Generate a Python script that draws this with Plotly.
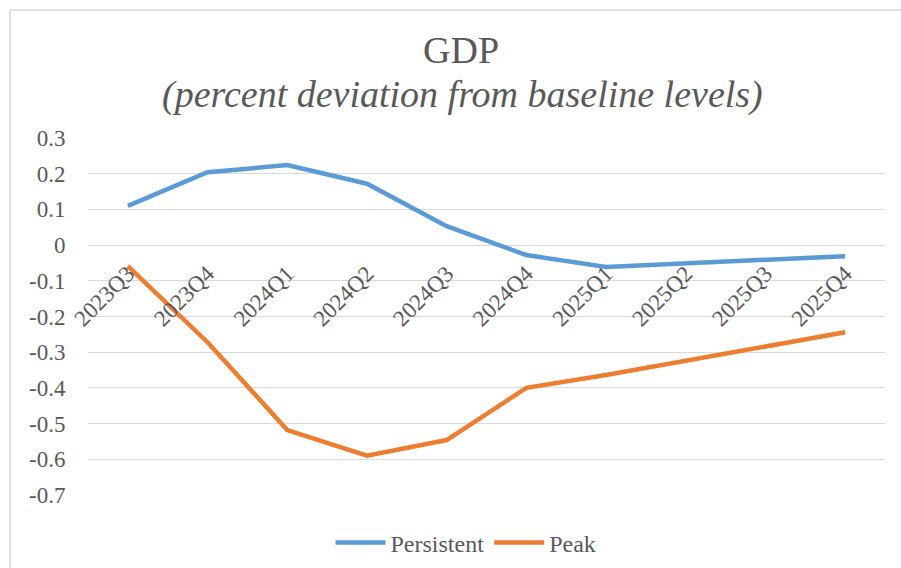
import plotly.graph_objects as go

# Quarterly GDP deviation from baseline (percent)
quarters = ["2023Q3", "2023Q4", "2024Q1", "2024Q2", "2024Q3",
            "2024Q4", "2025Q1", "2025Q2", "2025Q3", "2025Q4"]
persistent = [0.11, 0.204, 0.224, 0.172, 0.053, -0.028, -0.061, -0.050, -0.040, -0.031]
peak = [-0.059, -0.272, -0.518, -0.590, -0.546, -0.400, -0.364, -0.324, -0.283, -0.244]
y_ticks = [0.3, 0.2, 0.1, 0, -0.1, -0.2, -0.3, -0.4, -0.5, -0.6, -0.7]
y_min, y_max = -0.7, 0.3

FONT = "Times New Roman, Liberation Serif, serif"
GREY = "#595959"

W, H = 901, 568
L, R, T, B = 88, 16, 138, 73
pw, ph = W - L - R, H - T - B


def px_x(x):
    return (x - L) / pw


def px_y(y):
    return (H - B - y) / ph


fig = go.Figure()
fig.add_trace(go.Scatter(x=quarters, y=persistent, name="Persistent", mode="lines",
                         line=dict(color="#5B9BD5", width=4.5)))
fig.add_trace(go.Scatter(x=quarters, y=peak, name="Peak", mode="lines",
                         line=dict(color="#ED7D31", width=4.5)))

fig.update_layout(
    width=W, height=H,
    margin=dict(l=L, r=R, t=T, b=B, autoexpand=False),
    paper_bgcolor="white", plot_bgcolor="white",
    font=dict(family=FONT, color=GREY, size=22),
    showlegend=True,
    legend=dict(orientation="h", x=px_x(466), y=px_y(543), xanchor="center", yanchor="middle",
                font=dict(family=FONT, size=24, color=GREY), itemwidth=50, tracegroupgap=0),
    xaxis=dict(
        type="category", range=[-0.5, len(quarters) - 0.5],
        anchor="free", position=(0 - y_min) / (y_max - y_min),
        tickangle=-45, showgrid=False, zeroline=False, showline=False,
        ticks="outside", ticklen=5, tickcolor="rgba(0,0,0,0)",
        tickfont=dict(family=FONT, size=23, color=GREY), automargin=False,
    ),
    yaxis=dict(
        range=[y_min, y_max], tickvals=y_ticks,
        ticktext=[("%g" % v) for v in y_ticks],
        showgrid=True, gridcolor="#D9D9D9", gridwidth=1.3,
        zeroline=False, showline=False,
        ticks="outside", ticklen=17, tickcolor="rgba(0,0,0,0)",
        tickfont=dict(family=FONT, size=23, color=GREY), automargin=False,
    ),
    shapes=[dict(type="rect", xref="paper", yref="paper",
                 x0=px_x(10), x1=px_x(960), y0=px_y(620), y1=px_y(10),
                 line=dict(color="#D9D9D9", width=1.5), fillcolor="rgba(0,0,0,0)", layer="below")],
    annotations=[
        dict(text="GDP", xref="paper", yref="paper", x=px_x(461), y=px_y(50),
             xanchor="center", yanchor="middle", showarrow=False,
             font=dict(family=FONT, size=38, color=GREY)),
        dict(text="<i>(percent deviation from baseline levels)</i>", xref="paper", yref="paper",
             x=px_x(462), y=px_y(94), xanchor="center", yanchor="middle", showarrow=False,
             font=dict(family=FONT, size=38, color=GREY)),
    ],
)

fig.write_html("out.html")
